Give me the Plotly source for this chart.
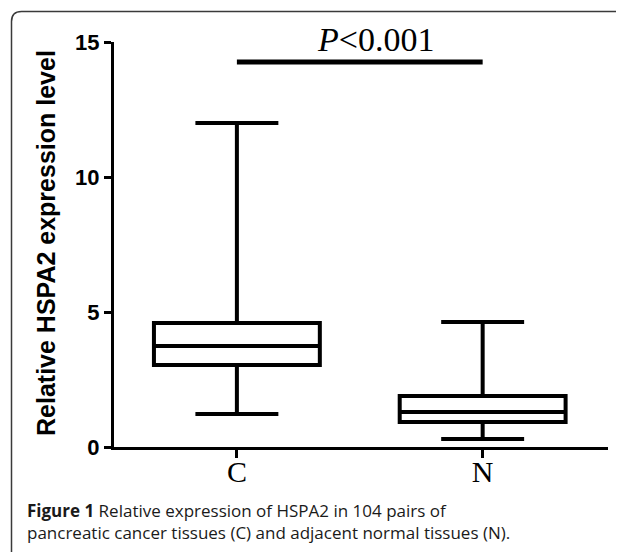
import plotly.graph_objects as go

# ---- data ----
categories = ["C", "N"]
cat_pos = [0, 1]
q1_vals = [3.04, 0.93]
median_vals = [3.74, 1.30]
q3_vals = [4.59, 1.89]
min_vals = [1.22, 0.30]
max_vals = [12.0, 4.63]
y_ticks = [0, 5, 10, 15]
sig_y = 14.26
sig_text = "<i>P</i><0.001"
y_title = "Relative HSPA2 expression level"
caption_lines = ["<b>Figure 1</b> Relative expression of HSPA2 in 104 pairs of",
                 "pancreatic cancer tissues (C) and adjacent normal tissues (N)."]

# page body has an 8px margin; work in window pixels and shift
OFF = 8
W, H = 624 - OFF, 552 - OFF
ML, MR, MT, MB = 114 - OFF, 16, 42 - OFF, 105
PW, PH = W - ML - MR, H - MT - MB

def px(x):
    return (x - OFF - ML) / PW

def py(y):
    return (H - MB - (y - OFF)) / PH

fig = go.Figure()
for i, c in enumerate(categories):
    fig.add_trace(go.Box(
        x=[cat_pos[i]], q1=[q1_vals[i]], median=[median_vals[i]], q3=[q3_vals[i]],
        lowerfence=[min_vals[i]], upperfence=[max_vals[i]],
        width=0.675, whiskerwidth=0.5,
        line=dict(color="black", width=4), fillcolor="white",
        boxpoints=False, name=c, showlegend=False, hoverinfo="skip"))

# significance bar
fig.add_shape(type="line", x0=cat_pos[0], x1=cat_pos[1], y0=sig_y, y1=sig_y,
              xref="x", yref="y", line=dict(color="black", width=5))
fig.add_annotation(x=px(375), y=py(39), xref="paper", yref="paper", text=sig_text,
                   showarrow=False, xanchor="center", yanchor="middle",
                   font=dict(family="Times New Roman, Liberation Serif", size=34, color="black"))

# y title
fig.add_annotation(x=px(46), y=py(243), xref="paper", yref="paper", text="<b>" + y_title + "</b>",
                   textangle=-90, showarrow=False, xanchor="center", yanchor="middle",
                   font=dict(family="Arial, Liberation Sans", size=25, color="black"))

# caption
fig.add_annotation(x=px(25), y=py(497), xref="paper", yref="paper",
                   text="<br>".join(caption_lines), align="left",
                   showarrow=False, xanchor="left", yanchor="top",
                   font=dict(family="Open Sans", size=17, color="#1a1a1a"))

# border (rounded top-left corner)
r = 10
x0b, y0b = 11.5, 11.5
path = (f"M {px(x0b)},{py(560)} L {px(x0b)},{py(y0b + r)} "
        f"Q {px(x0b)},{py(y0b)} {px(x0b + r)},{py(y0b)} L {px(630)},{py(y0b)}")
fig.add_shape(type="path", path=path, xref="paper", yref="paper",
              line=dict(color="#3a3a3a", width=1.5))

fig.update_layout(
    width=W, height=H, margin=dict(l=ML, r=MR, t=MT, b=MB),
    plot_bgcolor="white", paper_bgcolor="white", boxmode="overlay",
    xaxis=dict(range=[-0.5, 1.51], tickvals=cat_pos, ticktext=categories,
               showline=True, linecolor="black", linewidth=3, showgrid=False, zeroline=False,
               ticks="outside", ticklen=8, tickwidth=3, tickcolor="black",
               ticklabelstandoff=-12,
               tickfont=dict(family="Times New Roman, Liberation Serif", size=30, color="black")),
    yaxis=dict(range=[0, 15], tickvals=y_ticks, showline=True, linecolor="black", linewidth=3,
               showgrid=False, zeroline=False, ticks="outside", ticklen=7, tickwidth=3,
               tickcolor="black",
               tickfont=dict(family="Arial, Liberation Sans", size=22, color="black", weight="bold")),
)

fig.write_html("out.html")
